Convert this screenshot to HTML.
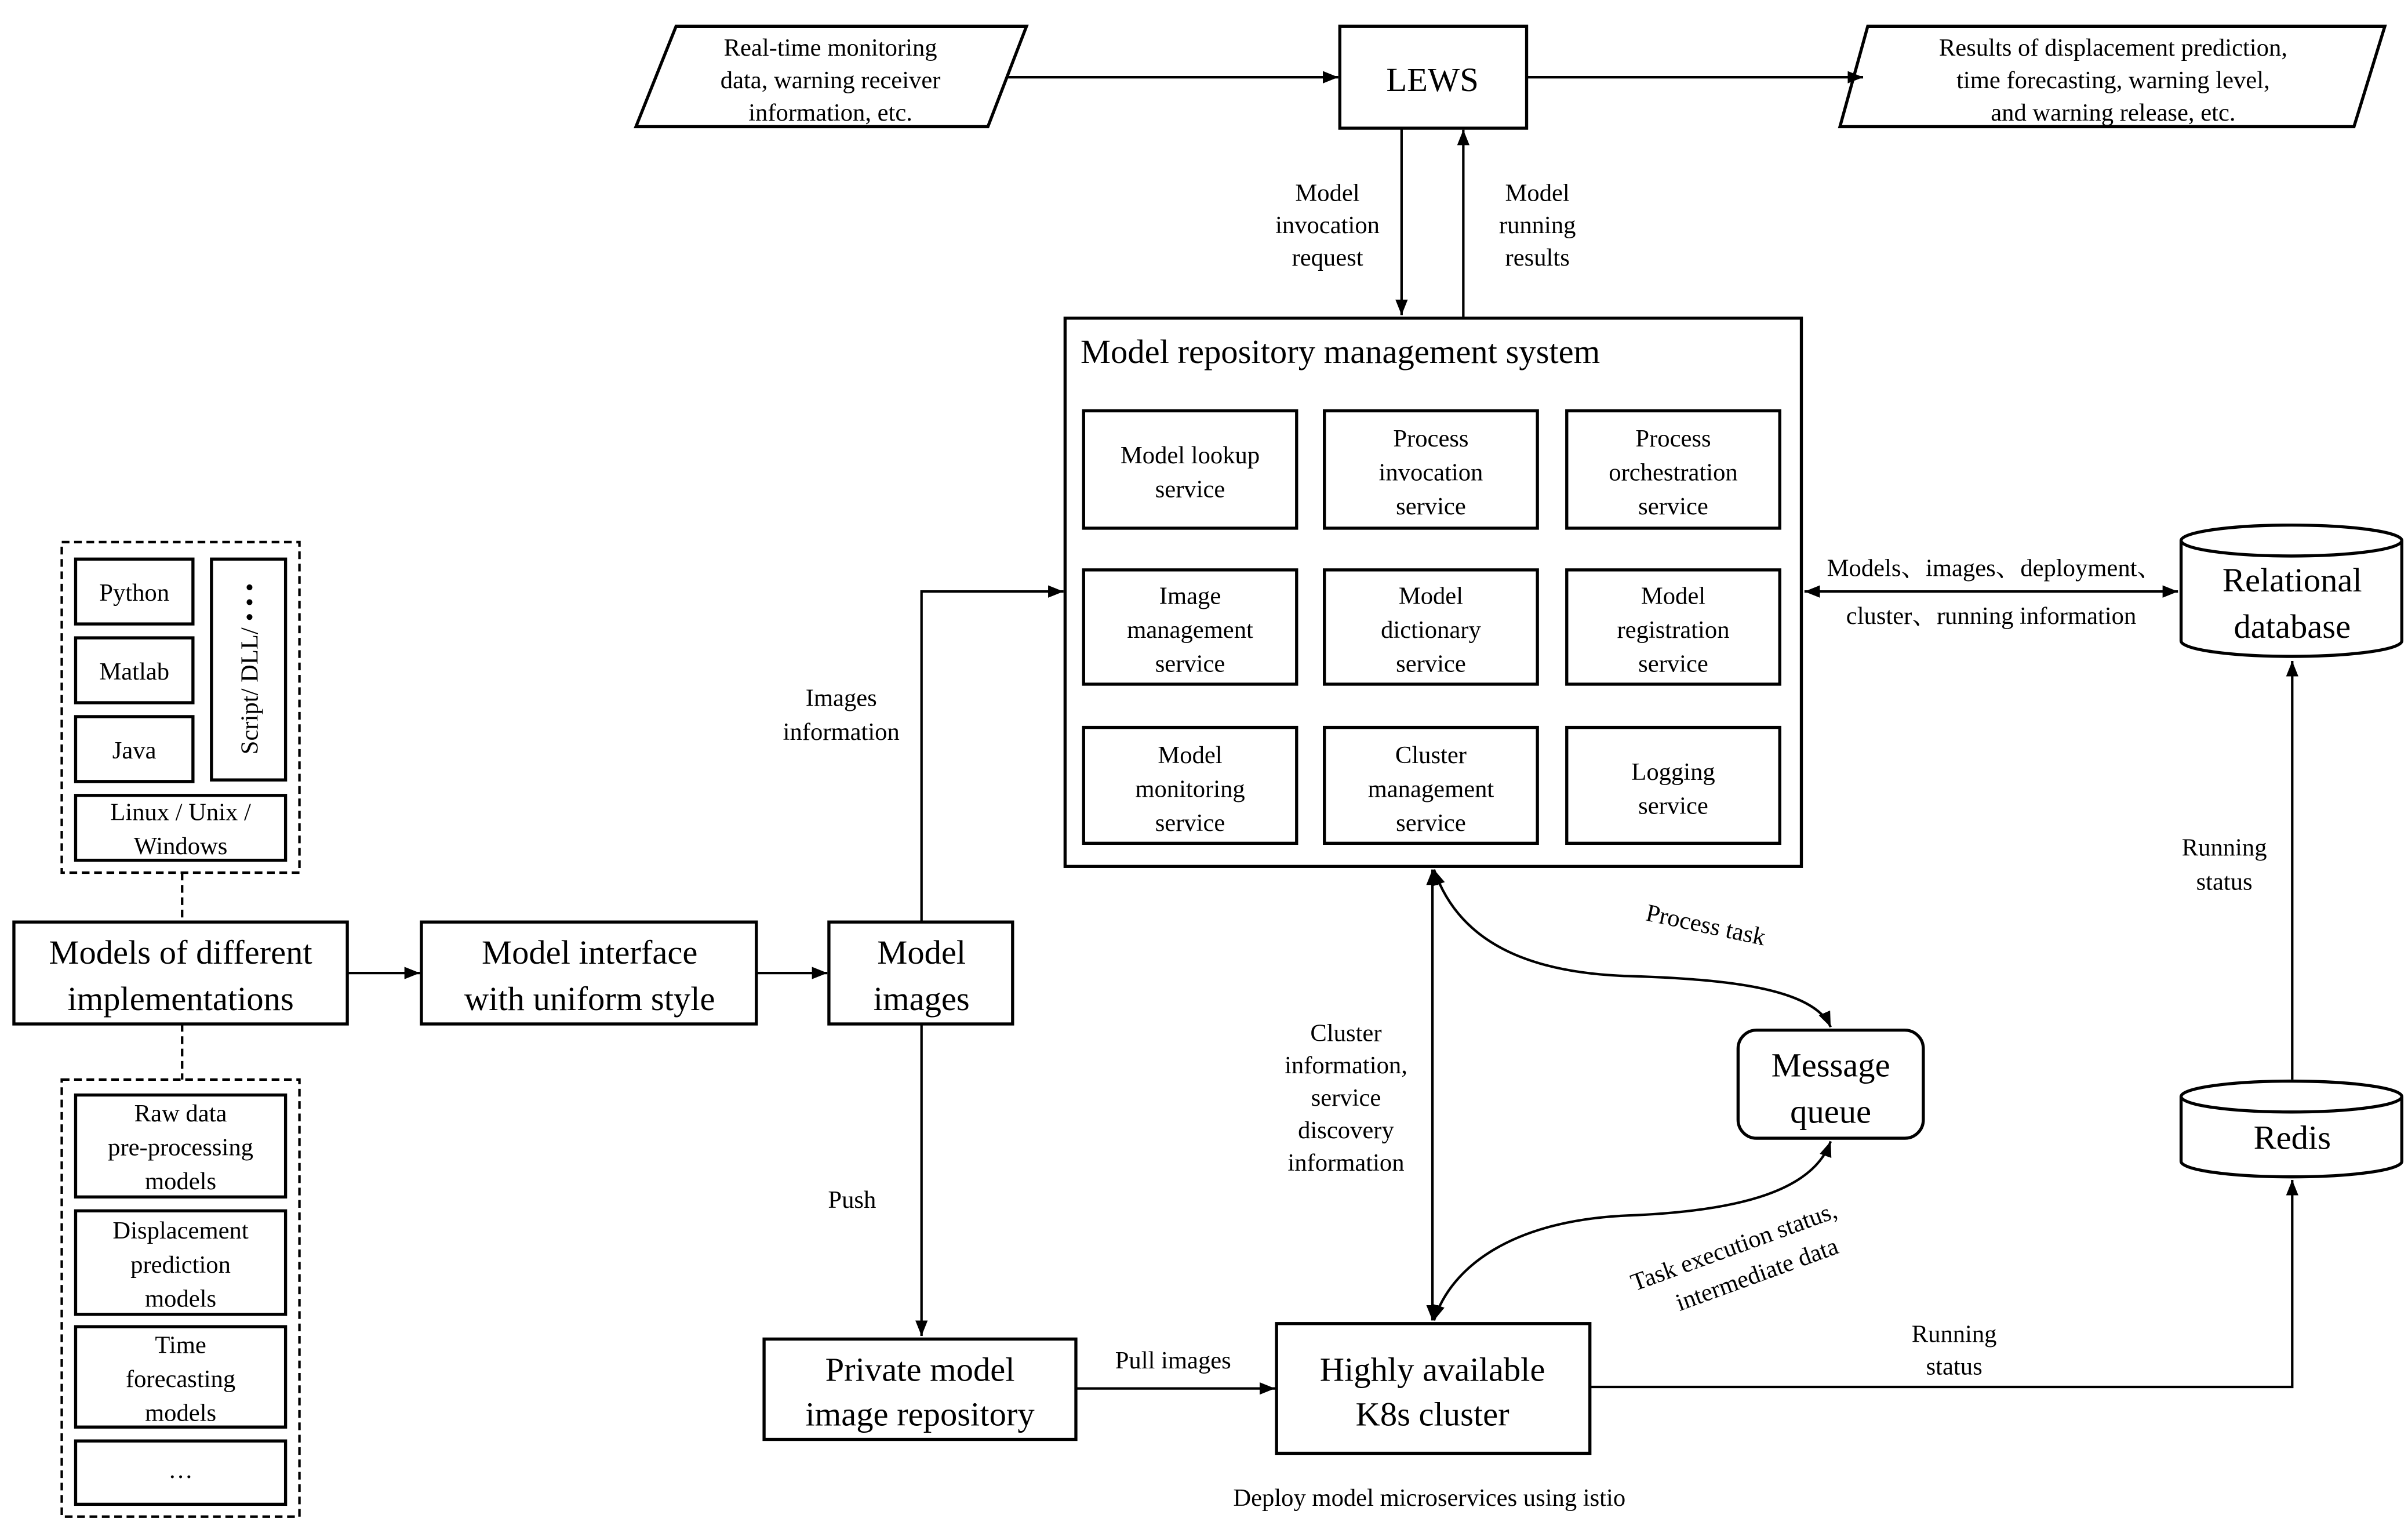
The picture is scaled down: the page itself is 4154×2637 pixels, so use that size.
<!DOCTYPE html>
<html><head><meta charset="utf-8"><style>
html,body{margin:0;padding:0;background:#fff;}
svg{display:block;font-family:"Liberation Serif","Times New Roman","DejaVu Serif","Noto Serif CJK SC",serif;}
text{font-family:"Liberation Serif","Times New Roman","DejaVu Serif","Noto Serif CJK SC",serif;fill:#000;}
.s{font-size:16px;text-anchor:middle;}
.l{font-size:22px;text-anchor:middle;}
.b{fill:#fff;stroke:#000;stroke-width:2;}
.ln{fill:none;stroke:#000;stroke-width:1.6;}
.d{fill:none;stroke:#000;stroke-width:1.6;stroke-dasharray:5,3;}
</style></head><body>
<svg width="4154" height="2637" viewBox="0 0 1560 990" preserveAspectRatio="none" xmlns="http://www.w3.org/2000/svg" font-family="Liberation Serif, Times New Roman, DejaVu Serif, serif">
<defs><marker id="a" markerWidth="10" markerHeight="8" refX="10" refY="4" orient="auto-start-reverse" markerUnits="userSpaceOnUse"><path d="M0,0 L10,4 L0,8 z" fill="#000"/></marker></defs>
<rect width="1560" height="990" fill="#fff"/>
<polygon class="b" points="438,17 665,17 640,82 412,82"/>
<text class="s" x="538" y="36">Real-time monitoring</text>
<text class="s" x="538" y="57">data, warning receiver</text>
<text class="s" x="538" y="78">information, etc.</text>
<rect class="b" x="868" y="17" width="121" height="66"/>
<text class="l" x="928" y="59">LEWS</text>
<polygon class="b" points="1210,17 1545,17 1525,82 1192,82"/>
<text class="s" x="1369" y="36">Results of displacement prediction,</text>
<text class="s" x="1369" y="57">time forecasting, warning level,</text>
<text class="s" x="1369" y="78">and warning release, etc.</text>
<line class="ln" x1="652" y1="50" x2="867" y2="50" marker-end="url(#a)"/>
<line class="ln" x1="989" y1="50" x2="1207" y2="50" marker-end="url(#a)"/>
<line class="ln" x1="908" y1="83" x2="908" y2="204" marker-end="url(#a)"/>
<line class="ln" x1="948" y1="205" x2="948" y2="84" marker-end="url(#a)"/>
<text class="s" x="860" y="130">Model</text><text class="s" x="860" y="151">invocation</text><text class="s" x="860" y="172">request</text>
<text class="s" x="996" y="130">Model</text><text class="s" x="996" y="151">running</text><text class="s" x="996" y="172">results</text>
<rect class="b" x="690" y="206" width="477" height="355"/>
<text x="700" y="235" style="font-size:22px">Model repository management system</text>
<g>
<rect class="b" x="702" y="266" width="138" height="76"/><text class="s" x="771" y="300">Model lookup</text><text class="s" x="771" y="322">service</text>
<rect class="b" x="858" y="266" width="138" height="76"/><text class="s" x="927" y="289">Process</text><text class="s" x="927" y="311">invocation</text><text class="s" x="927" y="333">service</text>
<rect class="b" x="1015" y="266" width="138" height="76"/><text class="s" x="1084" y="289">Process</text><text class="s" x="1084" y="311">orchestration</text><text class="s" x="1084" y="333">service</text>
<rect class="b" x="702" y="369" width="138" height="74"/><text class="s" x="771" y="391">Image</text><text class="s" x="771" y="413">management</text><text class="s" x="771" y="435">service</text>
<rect class="b" x="858" y="369" width="138" height="74"/><text class="s" x="927" y="391">Model</text><text class="s" x="927" y="413">dictionary</text><text class="s" x="927" y="435">service</text>
<rect class="b" x="1015" y="369" width="138" height="74"/><text class="s" x="1084" y="391">Model</text><text class="s" x="1084" y="413">registration</text><text class="s" x="1084" y="435">service</text>
<rect class="b" x="702" y="471" width="138" height="75"/><text class="s" x="771" y="494">Model</text><text class="s" x="771" y="516">monitoring</text><text class="s" x="771" y="538">service</text>
<rect class="b" x="858" y="471" width="138" height="75"/><text class="s" x="927" y="494">Cluster</text><text class="s" x="927" y="516">management</text><text class="s" x="927" y="538">service</text>
<rect class="b" x="1015" y="471" width="138" height="75"/><text class="s" x="1084" y="505">Logging</text><text class="s" x="1084" y="527">service</text>
</g>
<line class="ln" x1="1169" y1="383" x2="1411" y2="383" marker-start="url(#a)" marker-end="url(#a)"/>
<text class="s" x="1292" y="373">Models、images、deployment、</text>
<text class="s" x="1290" y="404">cluster、running information</text>
<path class="b" d="M1413,350 L1413,415 A71.5,10 0 0 0 1556,415 L1556,350"/>
<ellipse class="b" cx="1484.5" cy="350" rx="71.5" ry="10"/>
<text class="l" x="1485" y="383">Relational</text><text class="l" x="1485" y="413">database</text>
<path class="b" d="M1413,710 L1413,752 A71.5,10 0 0 0 1556,752 L1556,710"/>
<ellipse class="b" cx="1484.5" cy="710" rx="71.5" ry="10"/>
<text class="l" x="1485" y="744">Redis</text>
<line class="ln" x1="1485" y1="699" x2="1485" y2="428" marker-end="url(#a)"/>
<text class="s" x="1441" y="554">Running</text><text class="s" x="1441" y="576">status</text>
<rect class="b" x="827" y="857" width="203" height="84"/>
<text class="l" x="928" y="894">Highly available</text><text class="l" x="928" y="923">K8s cluster</text>
<polyline class="ln" points="1030,898 1485,898 1485,764" marker-end="url(#a)"/>
<text class="s" x="1266" y="869">Running</text><text class="s" x="1266" y="890">status</text>
<text class="s" x="926" y="975">Deploy model microservices using istio</text>
<rect class="b" x="1126" y="667" width="120" height="70" rx="12"/>
<text class="l" x="1186" y="697">Message</text><text class="l" x="1186" y="727">queue</text>
<line class="ln" x1="928" y1="563" x2="928" y2="855" marker-start="url(#a)" marker-end="url(#a)"/>
<text class="s" x="872" y="674">Cluster</text><text class="s" x="872" y="695">information,</text><text class="s" x="872" y="716">service</text><text class="s" x="872" y="737">discovery</text><text class="s" x="872" y="758">information</text>
<path class="ln" d="M929,563 C945,610 990,630 1055,632 C1120,634 1175,640 1186,665" marker-start="url(#a)" marker-end="url(#a)"/>
<text class="s" transform="translate(1104,604) rotate(12)">Process task</text>
<path class="ln" d="M929,855 C940,820 980,790 1055,787 C1130,784 1175,770 1186,739" marker-start="url(#a)" marker-end="url(#a)"/>
<text class="s" transform="translate(1125,812) rotate(-20)">Task execution status,</text>
<text class="s" transform="translate(1140,830) rotate(-20)">intermediate data</text>
<rect class="b" x="9" y="597" width="216" height="66"/>
<text class="l" x="117" y="624">Models of different</text><text class="l" x="117" y="654">implementations</text>
<rect class="b" x="273" y="597" width="217" height="66"/>
<text class="l" x="382" y="624">Model interface</text><text class="l" x="382" y="654">with uniform style</text>
<rect class="b" x="537" y="597" width="119" height="66"/>
<text class="l" x="597" y="624">Model</text><text class="l" x="597" y="654">images</text>
<line class="ln" x1="225" y1="630" x2="272" y2="630" marker-end="url(#a)"/>
<line class="ln" x1="490" y1="630" x2="536" y2="630" marker-end="url(#a)"/>
<polyline class="ln" points="597,597 597,383 689,383" marker-end="url(#a)"/>
<text class="s" x="545" y="457">Images</text><text class="s" x="545" y="479">information</text>
<line class="ln" x1="597" y1="663" x2="597" y2="865" marker-end="url(#a)"/>
<text class="s" x="552" y="782">Push</text>
<rect class="b" x="495" y="867" width="202" height="65"/>
<text class="l" x="596" y="894">Private model</text><text class="l" x="596" y="923">image repository</text>
<line class="ln" x1="697" y1="899" x2="826" y2="899" marker-end="url(#a)"/>
<text class="s" x="760" y="886">Pull images</text>
<rect class="d" x="40" y="351" width="154" height="214"/>
<rect class="b" x="49" y="362" width="76" height="42"/><text class="s" x="87" y="389">Python</text>
<rect class="b" x="49" y="413" width="76" height="42"/><text class="s" x="87" y="440">Matlab</text>
<rect class="b" x="49" y="464" width="76" height="42"/><text class="s" x="87" y="491">Java</text>
<rect class="b" x="137" y="362" width="48" height="143"/>
<text class="s" transform="translate(167,433) rotate(-90)">Script/ DLL/ • • •</text>
<rect class="b" x="49" y="515" width="136" height="42"/>
<text class="s" x="117" y="531">Linux / Unix /</text><text class="s" x="117" y="553">Windows</text>
<line class="d" x1="118" y1="565" x2="118" y2="597"/>
<line class="d" x1="118" y1="663" x2="118" y2="699"/>
<rect class="d" x="40" y="699" width="154" height="283"/>
<rect class="b" x="49" y="709" width="136" height="66"/><text class="s" x="117" y="726">Raw data</text><text class="s" x="117" y="748">pre-processing</text><text class="s" x="117" y="770">models</text>
<rect class="b" x="49" y="784" width="136" height="67"/><text class="s" x="117" y="802">Displacement</text><text class="s" x="117" y="824">prediction</text><text class="s" x="117" y="846">models</text>
<rect class="b" x="49" y="859" width="136" height="65"/><text class="s" x="117" y="876">Time</text><text class="s" x="117" y="898">forecasting</text><text class="s" x="117" y="920">models</text>
<rect class="b" x="49" y="933" width="136" height="41"/><text class="s" x="117" y="957">…</text>
</svg>
</body></html>
